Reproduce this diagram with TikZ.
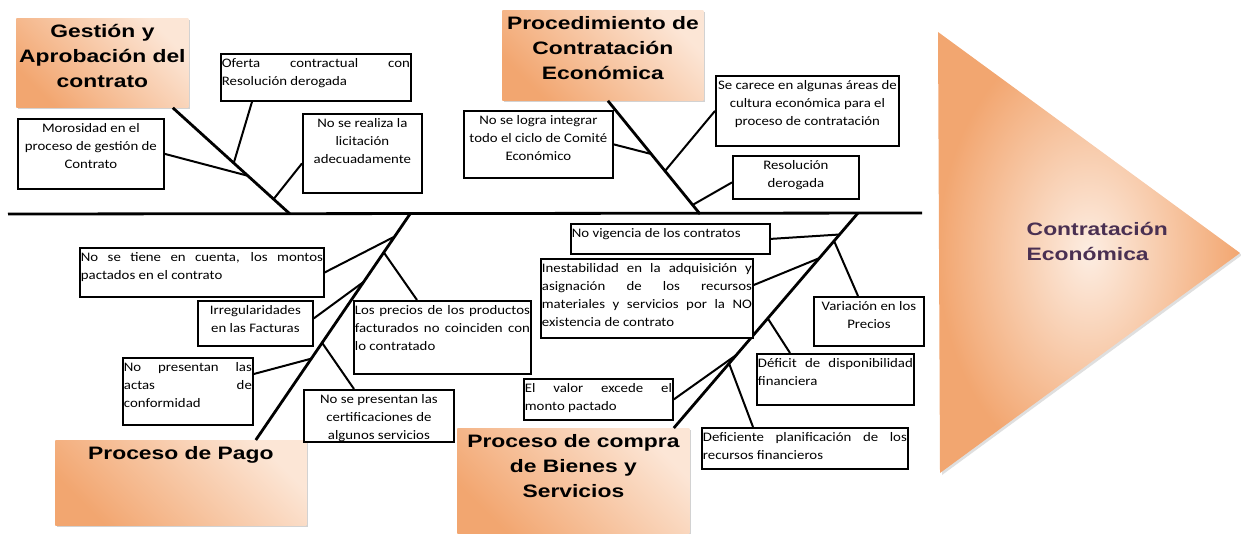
\documentclass[tikz,border=0pt]{standalone}
\usepackage{fontspec}
\setmainfont{Carlito}
\newfontfamily\cfont[FakeStretch=1.14]{Carlito}
\newfontfamily\hfont[FakeStretch=1.27]{Liberation Sans}
\usetikzlibrary{calc,shadows}
\definecolor{naranja}{RGB}{242,166,112}
\definecolor{crema}{RGB}{252,230,214}
\definecolor{morado}{RGB}{74,48,82}
\newcommand{\caja}[3]{\parbox[c][#2pt][t]{#1pt}{#3}}
\hyphenpenalty=10000
\tolerance=10000
\begin{document}
\begin{tikzpicture}[x=1pt,y=-1pt,thick,
	causa/.style={draw,line width=1.8pt,fill=white,inner xsep=1pt,inner ysep=5pt,anchor=north west,font=\cfont\fontsize{13}{18}\selectfont},
	grupo/.style={top color=crema,bottom color=naranja,shading angle=-45,inner xsep=2pt,inner ysep=6pt,anchor=north west,drop shadow={shadow xshift=2pt,shadow yshift=-2pt,fill=black!35},font=\hfont\bfseries\fontsize{18}{25}\selectfont},
	espina/.style={line width=2.8pt},
	rama/.style={line width=2pt}]
		\useasboundingbox (0,0) rectangle (1241,534);
		\shade[inner color=crema!70!white,outer color=naranja,drop shadow={shadow xshift=2pt,shadow yshift=-2pt,fill=black!25}] (938,32) -- (1240,253) -- (940,473) -- cycle;
		\node[anchor=west,align=left,text=morado,font=\hfont\bfseries\fontsize{18}{25}\selectfont] (E) at (1023,241) {Contratación\\Económica};

		\node[grupo] (G) at (16,18) {\caja{168}{77}{\centering Gestión y\\ Aprobación del\\ contrato}};
		\node[grupo] (P) at (502,10) {\caja{197}{78}{\centering Procedimiento de\\ Contratación\\ Económica}};
		\node[grupo] (A) at (55,440) {\caja{247}{73}{\centering Proceso de Pago}};
		\node[grupo] (C) at (457,428) {\caja{228}{93}{\centering Proceso de compra\\ de Bienes y\\ Servicios}};

		\coordinate (I) at (8,214);
		\coordinate (F) at (922,213);
		\coordinate (J1) at (290,214);
		\coordinate (J2) at (700,214);
		\coordinate (J3) at (410,214);
		\coordinate (J4) at (858,213);
		\coordinate (T1) at ([xshift=-16pt]G.south east);
		\coordinate (T2) at ([xshift=5pt]P.south);
		\coordinate (T3) at ([xshift=-51pt]A.north east);
		\coordinate (T4) at ([xshift=-16pt]C.north east);
		\draw[espina] (I) -- (F);
		\draw[espina] (T1) -- (J1);
		\draw[espina] (T2) -- (J2);
		\draw[espina] (J3) -- (T3);
		\draw[espina] (J4) -- (T4);

		\node[causa] (ofe) at (220,53) {\caja{188}{37}{Oferta contractual con\linebreak Resolución derogada}};
		\node[causa] (mor) at (17,118) {\caja{144}{60}{\centering Morosidad en el\\ proceso de gestión de\\ Contrato}};
		\node[causa] (lic) at (302,113) {\caja{117}{69}{\centering No se realiza la\\ licitación\\ adecuadamente}};
		\node[causa] (com) at (463,110) {\caja{147}{57}{\centering No se logra integrar\\ todo el ciclo de Comité\\ Económico}};
		\node[causa] (car) at (715,75) {\caja{181}{60}{\centering Se carece en algunas áreas de\\ cultura económica para el\\ proceso de contratación}};
		\node[causa] (res) at (732,155) {\caja{124}{33}{\centering Resolución\\ derogada}};
		\node[causa] (mon) at (79,247) {\caja{242}{39}{No se tiene en cuenta, los montos\linebreak pactados en el contrato}};
		\node[causa] (irr) at (197,300) {\caja{113}{35}{\centering Irregularidades\\ en las Facturas}};
		\node[causa] (pre) at (353,300) {\caja{175}{63}{Los precios de los productos\linebreak facturados no coinciden con\linebreak lo contratado}};
		\node[causa] (act) at (122,357) {\caja{128}{57}{No presentan las\linebreak actas de\linebreak conformidad}};
		\node[causa] (cer) at (303,389) {\caja{148}{42}{\centering No se presentan las\\ certificaciones de\\ algunos servicios}};
		\node[causa] (vig) at (570,223) {\caja{197}{20}{No vigencia de los contratos}};
		\node[causa] (ine) at (540,258) {\caja{210}{69}{Inestabilidad en la adquisición y\linebreak asignación de los recursos\linebreak materiales y servicios por la NO\linebreak existencia de contrato}};
		\node[causa] (var) at (813,296) {\caja{108}{39}{\centering Variación en los\\ Precios}};
		\node[causa] (dis) at (756,353) {\caja{155}{41}{Déficit de disponibilidad\linebreak financiera}};
		\node[causa] (val) at (523,378) {\caja{147}{31}{El valor excede el\linebreak monto pactado}};
		\node[causa] (pla) at (701,427) {\caja{204}{31}{Deficiente planificación de los\linebreak recursos financieros}};

		\draw[rama] ([xshift=32pt]ofe.south west) -- ($(T1)!.52!(J1)$);
		\draw[rama] (mor.east) -- ($(T1)!.64!(J1)$);
		\draw[rama] ([yshift=-10pt]lic.west) -- ($(T1)!.86!(J1)$);
		\draw[rama] (com.east) -- ($(T2)!.47!(J2)$);
		\draw[rama] (car.west) -- ($(T2)!.62!(J2)$);
		\draw[rama] ([yshift=-5pt]res.west) -- ($(T2)!.92!(J2)$);
		\draw[rama] (mon.east) -- ($(J3)!.10!(T3)$);
		\draw[rama] ([xshift=64pt]pre.north west) -- ($(J3)!.17!(T3)$);
		\draw[rama] ([yshift=5pt]irr.east) -- ($(J3)!.30!(T3)$);
		\draw[rama] ([yshift=-17pt]act.north east) -- ($(J3)!.64!(T3)$);
		\draw[rama] ([xshift=51pt]cer.north west) -- ($(J3)!.57!(T3)$);
		\draw[rama] (vig.east) -- ($(J4)!.10!(T4)$);
		\draw[rama] ([xshift=45pt]var.north west) -- ($(J4)!.13!(T4)$);
		\draw[rama] ([yshift=-27pt]ine.north east) -- ($(J4)!.21!(T4)$);
		\draw[rama] ([xshift=34pt]dis.north west) -- ($(J4)!.49!(T4)$);
		\draw[rama] (val.east) -- ($(J4)!.66!(T4)$);
		\draw[rama] ([xshift=52pt]pla.north west) -- ($(J4)!.70!(T4)$);
\end{tikzpicture}
\end{document}
